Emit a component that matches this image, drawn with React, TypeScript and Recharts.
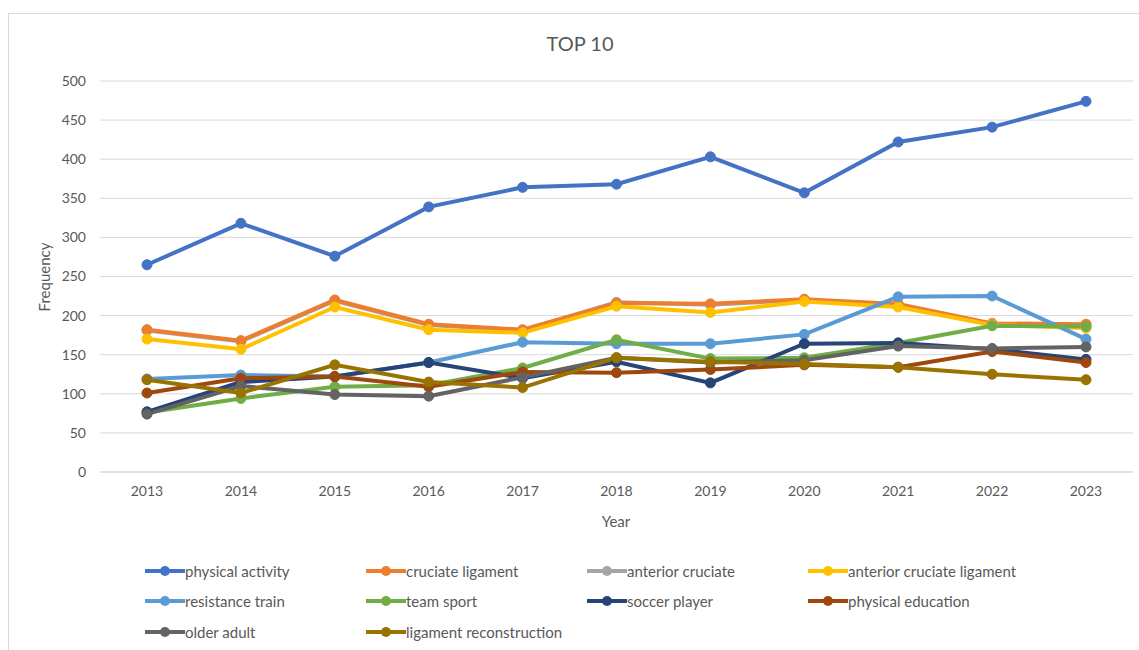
import React from 'react';
import { LineChart, Line, XAxis, YAxis, CartesianGrid } from 'recharts';

const years = ['2013', '2014', '2015', '2016', '2017', '2018', '2019', '2020', '2021', '2022', '2023'];
const physicalActivity = [265, 318, 276, 339, 364, 368, 403, 357, 422, 441, 474];
const cruciateLigament = [182, 168, 220, 189, 182, 216, 215, 221, 215, 190, 189];
const anteriorCruciate = [181, 167, 219, 188, 181, 217, 214, 220, 214, 189, 188];
const anteriorCruciateLigament = [170, 157, 211, 182, 178, 212, 204, 218, 211, 188, 184];
const resistanceTrain = [119, 124, 122, 140, 166, 164, 164, 176, 224, 225, 170];
const teamSport = [76, 94, 109, 111, 133, 169, 145, 146, 165, 187, 186];
const soccerPlayer = [77, 115, 122, 140, 120, 141, 114, 164, 165, 157, 144];
const physicalEducation = [101, 120, 122, 109, 128, 127, 131, 137, 134, 154, 140];
const olderAdult = [74, 110, 99, 97, 121, 146, 140, 143, 161, 158, 160];
const ligamentReconstruction = [118, 101, 137, 115, 108, 146, 141, 138, 134, 125, 118];
const yTicks = [0, 50, 100, 150, 200, 250, 300, 350, 400, 450, 500];

type Series = { key: string; name: string; color: string; values: number[] };

const series: Series[] = [
  { key: 'pa', name: 'physical activity', color: '#4472C4', values: physicalActivity },
  { key: 'cl', name: 'cruciate ligament', color: '#ED7D31', values: cruciateLigament },
  { key: 'ac', name: 'anterior cruciate', color: '#A5A5A5', values: anteriorCruciate },
  { key: 'acl', name: 'anterior cruciate ligament', color: '#FFC000', values: anteriorCruciateLigament },
  { key: 'rt', name: 'resistance train', color: '#5B9BD5', values: resistanceTrain },
  { key: 'ts', name: 'team sport', color: '#70AD47', values: teamSport },
  { key: 'sp', name: 'soccer player', color: '#264478', values: soccerPlayer },
  { key: 'pe', name: 'physical education', color: '#9E480E', values: physicalEducation },
  { key: 'oa', name: 'older adult', color: '#636363', values: olderAdult },
  { key: 'lr', name: 'ligament reconstruction', color: '#997300', values: ligamentReconstruction },
];

// grey series sits under the orange one, so draw it first
const drawOrder = ['pa', 'ac', 'cl', 'acl', 'rt', 'ts', 'sp', 'pe', 'oa', 'lr'];

const data = years.map((year, i) => {
  const row: Record<string, string | number> = { year };
  series.forEach(s => { row[s.key] = s.values[i]; });
  return row;
});

const font = 'Lato, "Open Sans", sans-serif';
const textColor = '#595959';
const legendCols = [145, 366, 587, 808];
const legendRows = [571, 601, 632];

function LegendItem({ s, x, y }: { s: Series; x: number; y: number }) {
  return <div style={{ position: 'absolute', left: x, top: y - 10, height: 20, display: 'flex', alignItems: 'center' }}>
      <svg width={40} height={20}>
        <line x1={0} y1={10} x2={40} y2={10} stroke={s.color} strokeWidth={4} />
        <circle cx={20} cy={10} r={5} fill={s.color} />
      </svg>
      <span style={{ fontSize: 15, color: textColor, whiteSpace: 'nowrap' }}>{s.name}</span>
    </div>;
}

export default function App() {
  return <div style={{ position: 'absolute', left: 0, top: 0, width: 1139, height: 650, background: '#fff', overflow: 'hidden', fontFamily: font }}>
      <div style={{ position: 'absolute', left: 8, top: 13, width: 1140, height: 660, border: '1px solid #d9d9d9', boxSizing: 'border-box' }} />
      <div style={{ position: 'absolute', left: 0, width: 1160, top: 31, textAlign: 'center', fontSize: 20, color: textColor }}>TOP 10</div>
      <div style={{ position: 'absolute', left: 44, top: 277, transform: 'translate(-50%, -50%) rotate(-90deg)', fontSize: 15, color: textColor }}>Frequency</div>
      <div style={{ position: 'absolute', left: 616, top: 521, transform: 'translate(-50%, -50%)', fontSize: 15, color: textColor }}>Year</div>
      <div style={{ position: 'absolute', left: 0, top: 0 }}>
        <LineChart width={1139} height={650} data={data} margin={{ top: 81, right: 6, bottom: 148, left: 40 }}>
          <CartesianGrid vertical={false} stroke="#d9d9d9" />
          <XAxis dataKey="year" padding={{ left: 47, right: 47 }} height={30} tickLine={false} axisLine={{ stroke: '#d9d9d9' }} tickMargin={8} tick={{ fill: textColor, fontSize: 14, fontFamily: font }} />
          <YAxis domain={[0, 500]} ticks={yTicks} width={60} tickLine={false} axisLine={false} tickMargin={8} tick={{ fill: textColor, fontSize: 14, fontFamily: font }} />
          {drawOrder.map(k => {
          const s = series.find(x => x.key === k)!;
          return <Line key={k} dataKey={k} name={s.name} stroke={s.color} strokeWidth={4} dot={{ r: 5, fill: s.color, stroke: s.color, strokeWidth: 1 }} isAnimationActive={false} />;
        })}
        </LineChart>
      </div>
      {series.map((s, i) => <LegendItem key={s.key} s={s} x={legendCols[i % 4]} y={legendRows[Math.floor(i / 4)]} />)}
    </div>;
}
